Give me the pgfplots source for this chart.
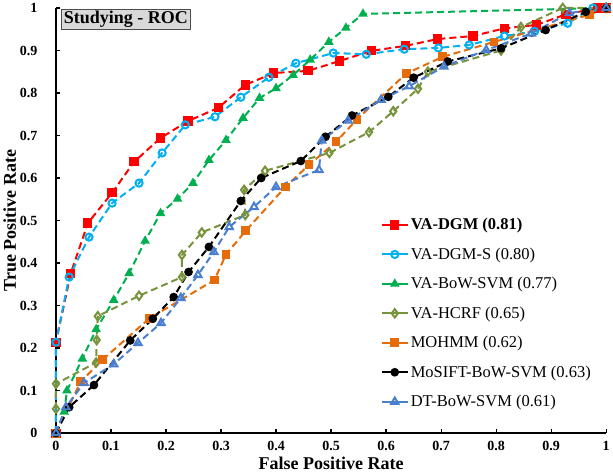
\documentclass[border=0pt]{standalone}
\usepackage{pgfplots}
\pgfplotsset{compat=1.18}
\usepackage{fontspec}
\setmainfont{Liberation Serif}
\definecolor{cRed}{RGB}{255,0,0}
\definecolor{cCyan}{RGB}{0,176,240}
\definecolor{cGreen}{RGB}{0,176,80}
\definecolor{cOlive}{RGB}{119,147,60}
\definecolor{cOrange}{RGB}{228,108,10}
\definecolor{cBlue}{RGB}{74,126,207}
\begin{document}
\begin{tikzpicture}
\begin{axis}[
  scale only axis, width=550pt, height=425pt,
  xmin=0, xmax=1, ymin=0, ymax=1,
  axis x line*=bottom, axis y line*=left,
  axis line style={line width=1.6pt},
  tick align=inside, major tick length=4pt,
  tick style={line width=1.2pt, black},
  xtick={0,0.1,...,1.0}, ytick={0,0.1,...,1.0},
  /pgf/number format/assume math mode=true,
  /pgf/number format/fixed, /pgf/number format/precision=1,
  tick label style={font=\bfseries\fontsize{14}{14}\selectfont},
  xticklabel style={yshift=-5pt},
  yticklabel style={xshift=-15pt},
  xlabel={\bfseries False Positive Rate},
  ylabel={\bfseries True Positive Rate},
  label style={font=\bfseries\fontsize{18}{18}\selectfont},
  xlabel style={yshift=1pt},
  ylabel style={yshift=-3pt},
  clip=false,
  every axis plot/.append style={line width=2pt, dash pattern=on 7pt off 4pt, mark size=3.6pt},
  legend style={draw=none, fill=none, at={(rel axis cs:0.59,0.51)}, anchor=north west,
    font=\fontsize{16.5}{16.5}\selectfont, row sep=12.5pt, inner sep=0pt,
    cells={anchor=west}},
  legend image code/.code={
    \draw[mark repeat=2,mark phase=2,solid,line width=2pt] plot coordinates {(0pt,0pt) (13pt,0pt) (26pt,0pt)};
  },
]
\node[anchor=north west, draw=black!70, line width=1pt, fill=black!15, inner xsep=2.5pt, inner ysep=2pt,
  font=\bfseries\fontsize{18}{18}\selectfont] at (rel axis cs:0.009,0.998) {Studying - ROC};

\addplot[color=cRed, mark=square*, mark options={solid, fill=cRed}] coordinates {
(0,0) (0,0.214) (0.027,0.376) (0.058,0.494) (0.102,0.565) (0.142,0.638) (0.19,0.694) (0.24,0.734)
(0.295,0.765) (0.344,0.819) (0.396,0.847) (0.458,0.852) (0.515,0.875) (0.573,0.899) (0.636,0.911)
(0.694,0.927) (0.758,0.934) (0.815,0.952) (0.873,0.96) (0.927,0.985) (0.985,1.0) (1,1)};
\addlegendentry{\textbf{VA-DGM (0.81)}}

\addplot[color=cCyan, mark=o, mark options={solid, fill=white}] coordinates {
(0,0) (0,0.214) (0.024,0.367) (0.06,0.461) (0.102,0.541) (0.151,0.588) (0.193,0.659) (0.235,0.725)
(0.289,0.744) (0.336,0.79) (0.387,0.837) (0.436,0.87) (0.504,0.894) (0.564,0.891) (0.633,0.903)
(0.695,0.906) (0.751,0.913) (0.815,0.934) (0.87,0.945) (0.93,0.964) (0.976,1.0) (1,1)};
\addlegendentry{VA-DGM-S (0.80)}

\addplot[color=cGreen, mark=triangle*, mark options={solid, fill=cGreen}] coordinates {
(0,0) (0.015,0.05) (0.02,0.1) (0.048,0.175) (0.073,0.244) (0.105,0.313) (0.133,0.376) (0.162,0.452)
(0.19,0.517) (0.221,0.551) (0.249,0.588) (0.278,0.642) (0.309,0.689) (0.34,0.741) (0.37,0.788)
(0.4,0.811) (0.431,0.842) (0.462,0.878) (0.496,0.92) (0.527,0.953) (0.558,0.986) (1,1)};
\addlegendentry{VA-BoW-SVM (0.77)}

\addplot[color=cOlive, mark=diamond, mark options={solid, fill=white}, mark size=4.2pt] coordinates {
(0,0.057) (0,0.116) (0.073,0.166) (0.074,0.219) (0.076,0.275) (0.151,0.323) (0.229,0.367) (0.229,0.419)
(0.265,0.472) (0.344,0.513) (0.342,0.572) (0.38,0.617) (0.497,0.659) (0.569,0.708) (0.613,0.757)
(0.658,0.81) (0.676,0.85) (0.809,0.9) (0.845,0.955) (0.921,1.0) (1,1)};
\addlegendentry{VA-HCRF (0.65)}

\addplot[color=cOrange, mark=square*, mark options={solid, fill=cOrange}, mark size=3.4pt] coordinates {
(0,0) (0.045,0.121) (0.085,0.173) (0.17,0.27) (0.288,0.36) (0.309,0.42) (0.345,0.476) (0.417,0.579)
(0.46,0.631) (0.509,0.685) (0.547,0.738) (0.637,0.846) (0.703,0.885) (0.796,0.92) (0.969,0.984) (1,1)};
\addlegendentry{MOHMM (0.62)}

\addplot[color=black, mark=*, mark options={solid, fill=black}, mark size=3.3pt] coordinates {
(0,0) (0.024,0.061) (0.069,0.113) (0.135,0.218) (0.176,0.269) (0.214,0.32) (0.241,0.379) (0.278,0.438)
(0.336,0.546) (0.373,0.6) (0.445,0.64) (0.49,0.697) (0.538,0.747) (0.604,0.791) (0.65,0.836)
(0.712,0.874) (0.809,0.905) (0.89,0.948) (0.963,0.991) (1,1)};
\addlegendentry{MoSIFT-BoW-SVM (0.63)}

\addplot[color=cBlue, mark=triangle, mark options={solid, fill=white}, mark size=4.2pt] coordinates {
(0,0) (0.018,0.061) (0.051,0.118) (0.105,0.162) (0.149,0.212) (0.191,0.259) (0.227,0.318) (0.258,0.372)
(0.287,0.426) (0.315,0.485) (0.36,0.532) (0.4,0.579) (0.478,0.619) (0.483,0.688) (0.531,0.735)
(0.591,0.784) (0.642,0.816) (0.705,0.862) (0.782,0.901) (0.864,0.94) (0.933,0.988) (1,1)};
\addlegendentry{DT-BoW-SVM (0.61)}
\end{axis}
\end{tikzpicture}
\end{document}
